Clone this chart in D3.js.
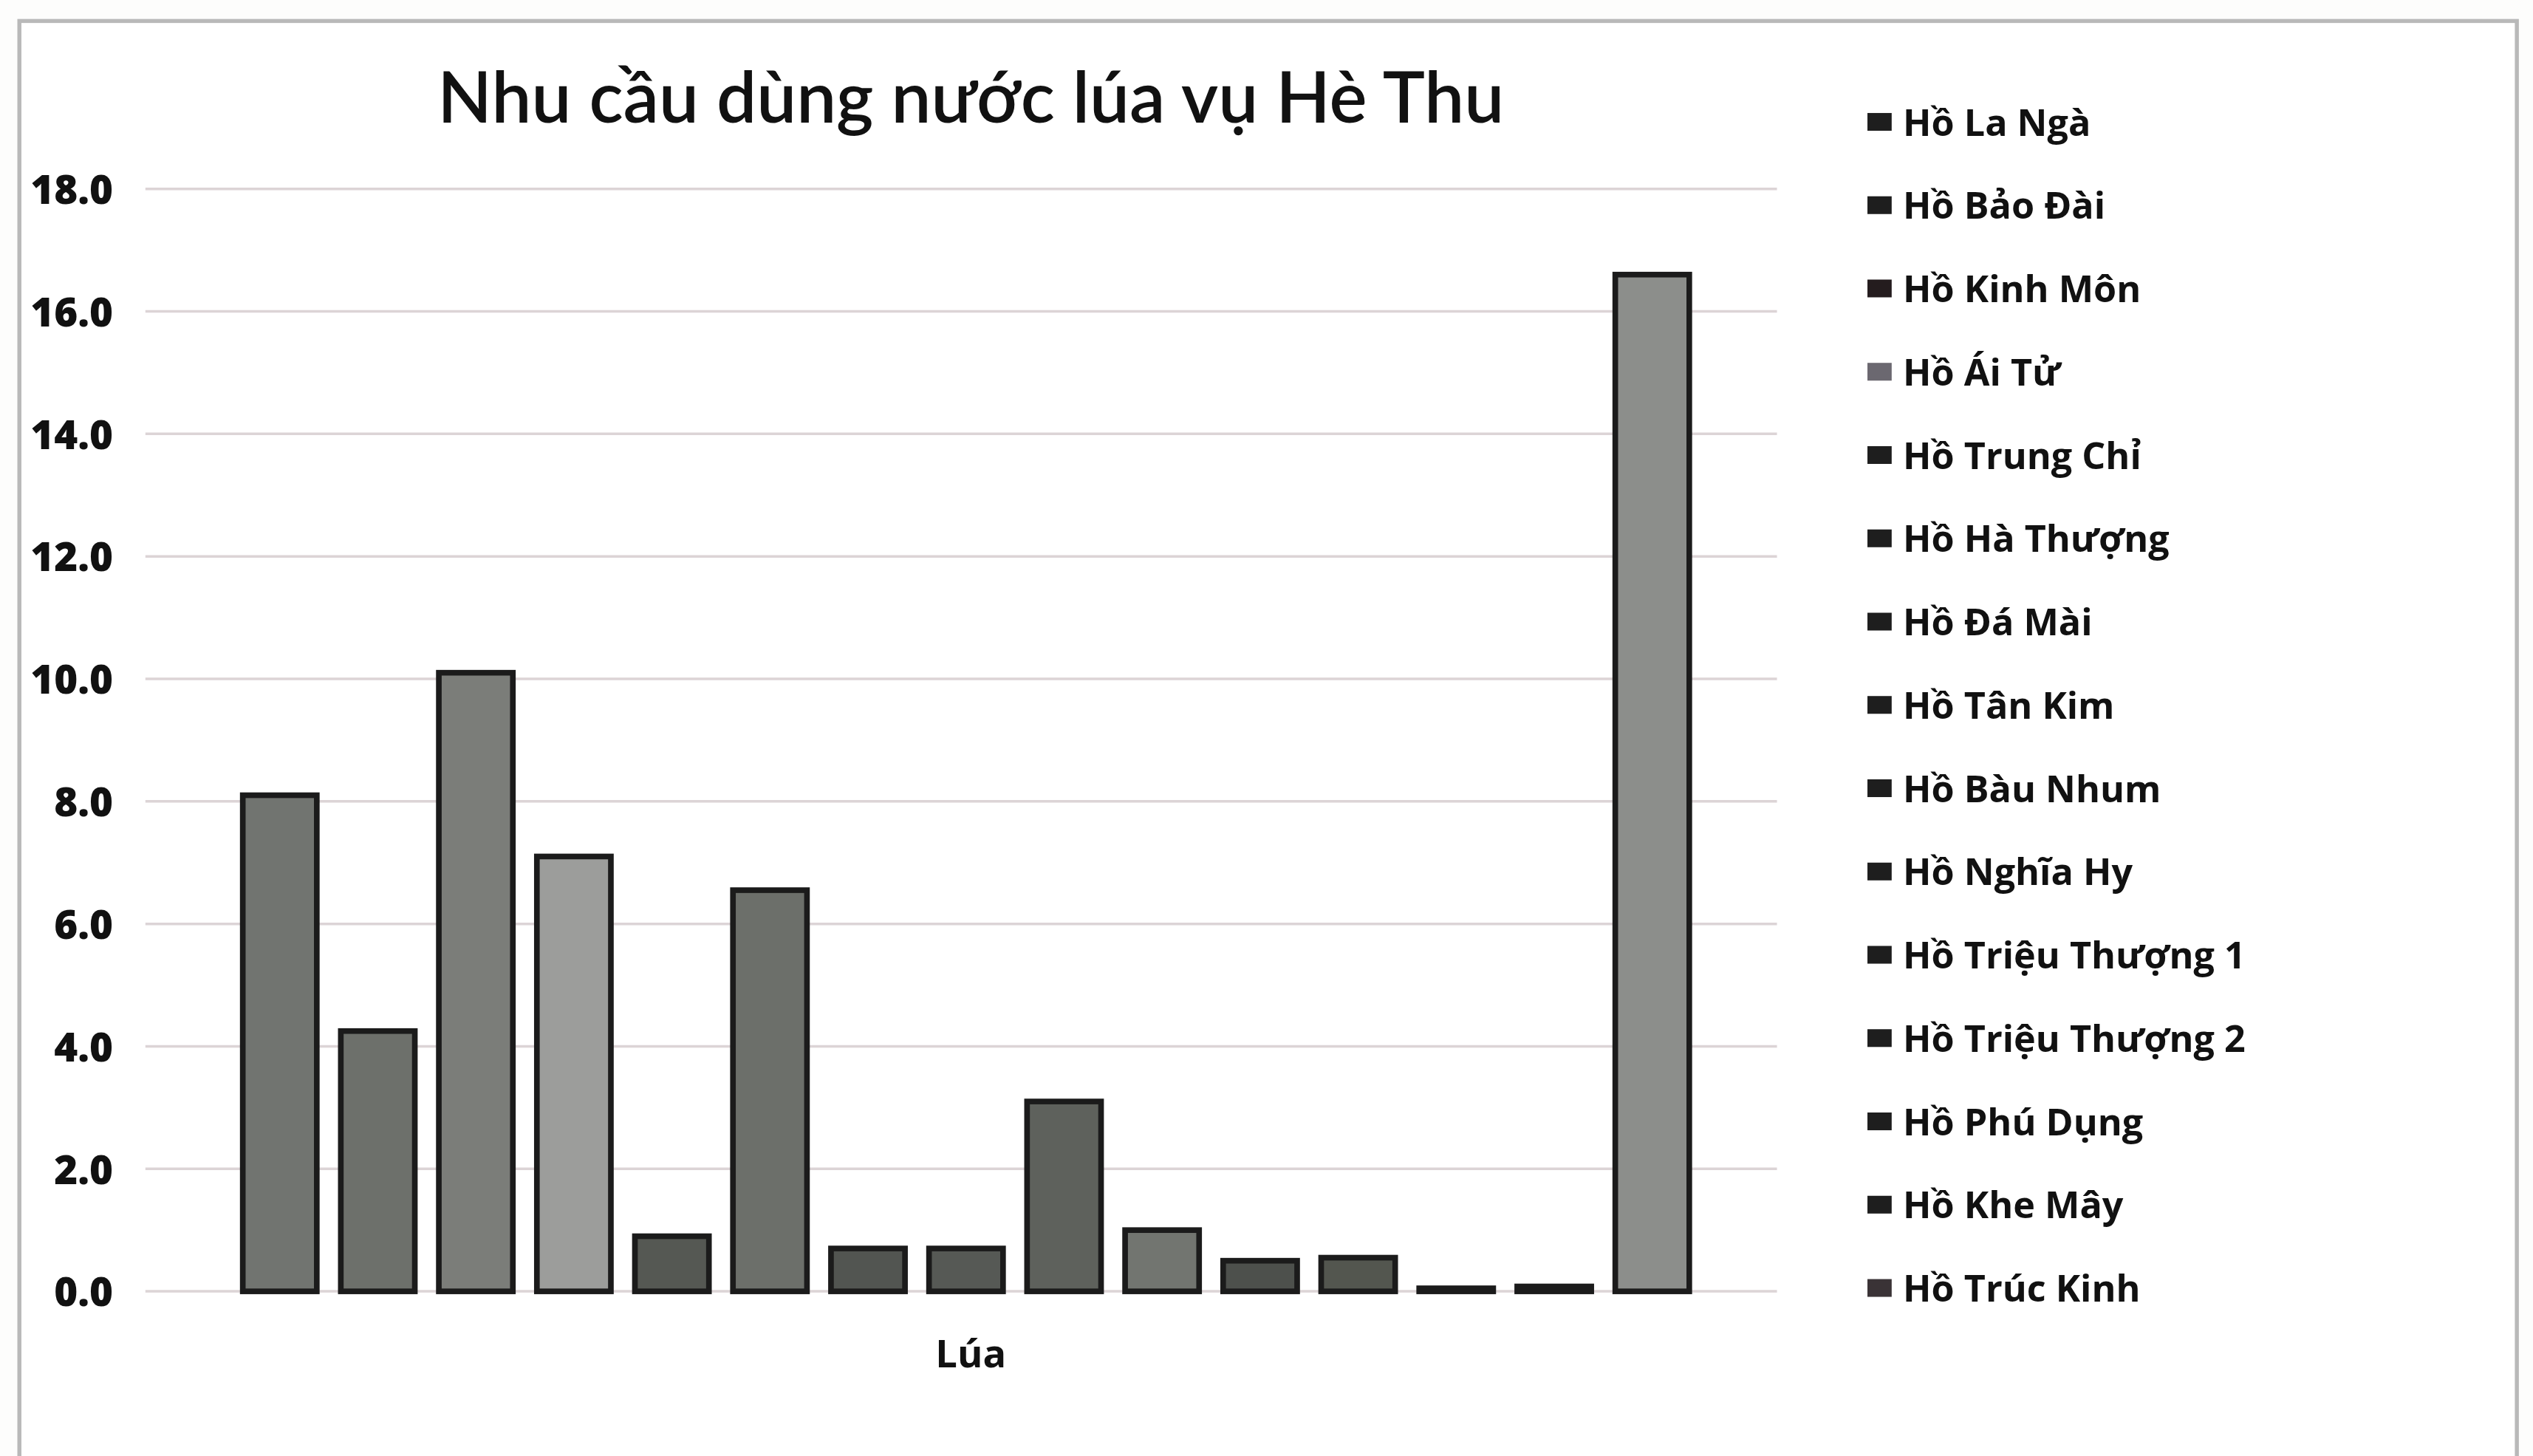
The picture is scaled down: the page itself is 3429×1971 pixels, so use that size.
<!DOCTYPE html>
<html>
<head>
  <style>
    body {
      margin: 0;
      background: #fdfdfc;
    }
    text {
      fill: #111;
    }
  </style>
</head>
<body>
  <script src="https://d3js.org/d3.v7.min.js"></script>
  <script>
    var width = 3429, height = 1971;

    // chart data
    var title = "Nhu cầu dùng nước lúa vụ Hè Thu";
    var category = "Lúa";
    var reservoirs = ["Hồ La Ngà", "Hồ Bảo Đài", "Hồ Kinh Môn", "Hồ Ái Tử", "Hồ Trung Chỉ",
      "Hồ Hà Thượng", "Hồ Đá Mài", "Hồ Tân Kim", "Hồ Bàu Nhum", "Hồ Nghĩa Hy",
      "Hồ Triệu Thượng 1", "Hồ Triệu Thượng 2", "Hồ Phú Dụng", "Hồ Khe Mây", "Hồ Trúc Kinh"];
    var demand = [8.1, 4.25, 10.1, 7.1, 0.9, 6.55, 0.7, 0.7, 3.1, 1.0, 0.5, 0.55, 0.05, 0.08, 16.6];
    var yTicks = [0, 2, 4, 6, 8, 10, 12, 14, 16, 18];
    var barFills = ["#717470", "#6d706b", "#7b7d79", "#9c9d9b", "#555853", "#6c6f6a", "#525551", "#565955",
      "#5e615c", "#727570", "#4d504c", "#53564f", "#3a3a3a", "#3a3a3a", "#8c8e8b"];
    var legendFills = ["#1e1e1e", "#1e1e1e", "#241c1e", "#6b6870", "#1e1e1e", "#1e1e1e", "#1e1e1e", "#1e1e1e",
      "#1e1e1e", "#1e1e1e", "#1e1e1e", "#1e1e1e", "#1e1e1e", "#1e1e1e", "#3a3336"];

    // drawn in a 1568 x 902 frame and stretched to the window
    var svg = d3.select("body").append("svg")
        .attr("width", width).attr("height", height)
        .attr("viewBox", "0 0 1568 902")
        .attr("preserveAspectRatio", "none");

    svg.append("rect")
        .attr("x", 12).attr("y", 13).attr("width", 1546).attr("height", 900)
        .attr("fill", "#fff").attr("stroke", "#b9b9b9").attr("stroke-width", 2.5);

    var y = d3.scaleLinear().domain([0, 18]).range([800, 117]);
    var x = d3.scaleBand().domain(reservoirs).range([143, 1053]).paddingInner(0.245).paddingOuter(0.12);

    // gridlines
    svg.append("g").selectAll("line")
        .data(yTicks)
      .enter().append("line")
        .attr("x1", 90).attr("x2", 1100)
        .attr("y1", d => y(d)).attr("y2", d => y(d))
        .attr("stroke", "#dcd4d6").attr("stroke-width", 1.6);

    // y axis labels
    var yAxis = d3.axisLeft(y).tickValues(yTicks).tickFormat(d3.format(".1f")).tickSize(0).tickPadding(0);
    var ya = svg.append("g").attr("transform", "translate(70,0)").call(yAxis);
    ya.select(".domain").remove();
    ya.selectAll("text")
        .attr("font-family", "'Open Sans', sans-serif").attr("font-weight", 800)
        .attr("font-size", 25).attr("fill", "#111").attr("dy", "0.35em");

    // bars
    svg.append("g").selectAll("rect")
        .data(demand)
      .enter().append("rect")
        .attr("x", (d, i) => x(reservoirs[i]))
        .attr("y", d => y(d))
        .attr("width", x.bandwidth())
        .attr("height", d => y(0) - y(d))
        .attr("fill", (d, i) => barFills[i])
        .attr("stroke", "#1b1b1b").attr("stroke-width", 3.5);

    // title and category label
    svg.append("text")
        .attr("x", 601).attr("y", 76)
        .attr("text-anchor", "middle")
        .attr("font-family", "Lato, sans-serif").attr("font-weight", 600).attr("font-size", 44)
        .text(title);

    svg.append("text")
        .attr("x", 601).attr("y", 847)
        .attr("text-anchor", "middle")
        .attr("font-family", "'Open Sans', sans-serif").attr("font-weight", 700).attr("font-size", 24)
        .text(category);

    // legend
    var legend = svg.append("g").selectAll("g")
        .data(reservoirs)
      .enter().append("g")
        .attr("transform", (d, i) => "translate(1156," + (76 + i * 51.6) + ")");

    legend.append("rect")
        .attr("x", 0).attr("y", -6).attr("width", 15).attr("height", 11)
        .attr("fill", (d, i) => legendFills[i]);

    legend.append("text")
        .attr("x", 22).attr("dy", "0.35em")
        .attr("font-family", "'Open Sans', sans-serif").attr("font-weight", 700).attr("font-size", 23)
        .text(d => d);
  </script>
</body>
</html>
